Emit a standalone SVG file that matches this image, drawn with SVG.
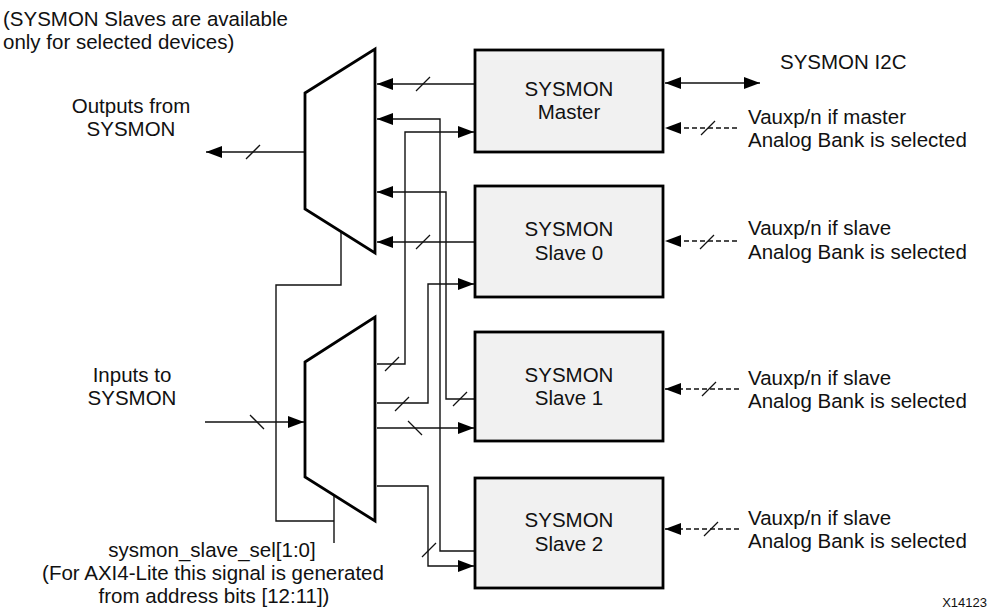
<svg xmlns="http://www.w3.org/2000/svg" width="992" height="611" viewBox="0 0 992 611">
<defs>
<marker id="ah" markerUnits="userSpaceOnUse" markerWidth="17" markerHeight="13" refX="16" refY="6" orient="auto-start-reverse"><path d="M0,0 L16,6 L0,12 z" fill="#000"/></marker>
</defs>
<style>
.t{font-family:"Liberation Sans",Arial,sans-serif;font-size:20.5px;fill:#111}
.m{text-anchor:middle}
.box{fill:#f1f1f1;stroke:#000;stroke-width:2.8}
.mux{fill:#fff;stroke:#000;stroke-width:2.8;stroke-linejoin:miter}
.c{fill:none;stroke:#111;stroke-width:1.4}
.d{stroke-dasharray:5 3}
.a{marker-end:url(#ah)}
.s{fill:none;stroke:#111;stroke-width:1.3}
</style>
<rect width="992" height="611" fill="#fff"/>

<g id="connectors">
<path class="c a" d="M475,84 H377"/>
<path class="c a" d="M377,364 H405 V132 H474"/>
<path class="c a" d="M475,242 H377"/>
<path class="c a" d="M377,403 H428 V284 H474"/>
<path class="c a" d="M475,399 H446 V192 H377"/>
<path class="c a" d="M377,428 H474"/>
<path class="c a" d="M475,551 H440 V119 H377"/>
<path class="c a" d="M377,486 H428 V566 H474"/>
<path class="c a" d="M304,152 H206"/>
<path class="c a" d="M205,422 H304"/>
<path class="c" d="M334,495 V543"/>
<path class="c" d="M341,232 V285 H276 V521 H334"/>
<path class="c a" style="marker-start:url(#ah)" d="M665,83 H760"/>
<path class="c d a" d="M737,128 H665"/>
<path class="c d a" d="M737,241 H665"/>
<path class="c d a" d="M739,389 H665"/>
<path class="c d a" d="M739,529 H665"/>
<g id="bus-slashes">
<path class="s" d="M416,91 L430,77"/>
<path class="s" d="M385,371 L399,357"/>
<path class="s" d="M416,249 L430,235"/>
<path class="s" d="M395,411 L409,397"/>
<path class="s" d="M453,406 L467,392"/>
<path class="s" d="M408,421 L422,435"/>
<path class="s" d="M422,557 L436,543"/>
<path class="s" d="M246,159 L260,145"/>
<path class="s" d="M250,415 L264,429"/>
<path class="s" d="M701,135 L715,121"/>
<path class="s" d="M700,249 L714,235"/>
<path class="s" d="M702,396 L716,382"/>
<path class="s" d="M704,536 L718,522"/>
</g>
</g>

<g id="mux-out"><polygon class="mux" points="305,93 375,49 375,253 305,209"/></g>
<g id="mux-in"><polygon class="mux" points="305,362 375,317 375,521 305,477"/></g>

<g id="master"><rect class="box" x="475" y="50" width="188" height="102"/>
<text class="t m" x="569" y="96">SYSMON</text><text class="t m" x="569" y="119">Master</text></g>
<g id="slave0"><rect class="box" x="475" y="186" width="188" height="111"/>
<text class="t m" x="569" y="236">SYSMON</text><text class="t m" x="569" y="260">Slave 0</text></g>
<g id="slave1"><rect class="box" x="475" y="332" width="188" height="109"/>
<text class="t m" x="569" y="382">SYSMON</text><text class="t m" x="569" y="405">Slave 1</text></g>
<g id="slave2"><rect class="box" x="475" y="478" width="188" height="110"/>
<text class="t m" x="569" y="527">SYSMON</text><text class="t m" x="569" y="551">Slave 2</text></g>

<g id="labels">
<text class="t" x="3" y="26">(SYSMON Slaves are available</text>
<text class="t" x="3" y="49">only for selected devices)</text>
<text class="t m" x="131" y="113">Outputs from</text>
<text class="t m" x="131" y="136">SYSMON</text>
<text class="t m" x="132" y="382">Inputs to</text>
<text class="t m" x="132" y="405">SYSMON</text>
<text class="t m" x="212" y="557">sysmon_slave_sel[1:0]</text>
<text class="t m" x="213" y="580">(For AXI4-Lite this signal is generated</text>
<text class="t m" x="214" y="603">from address bits [12:11])</text>
<text class="t" x="780" y="69">SYSMON I2C</text>
<text class="t" x="748" y="124">Vauxp/n if master</text>
<text class="t" x="748" y="147">Analog Bank is selected</text>
<text class="t" x="748" y="235">Vauxp/n if slave</text>
<text class="t" x="748" y="259">Analog Bank is selected</text>
<text class="t" x="748" y="385">Vauxp/n if slave</text>
<text class="t" x="748" y="408">Analog Bank is selected</text>
<text class="t" x="748" y="525">Vauxp/n if slave</text>
<text class="t" x="748" y="548">Analog Bank is selected</text>
<text x="987" y="607" text-anchor="end" style="font-family:'Liberation Sans',Arial,sans-serif;font-size:13px;fill:#111">X14123</text>
</g>
</svg>
